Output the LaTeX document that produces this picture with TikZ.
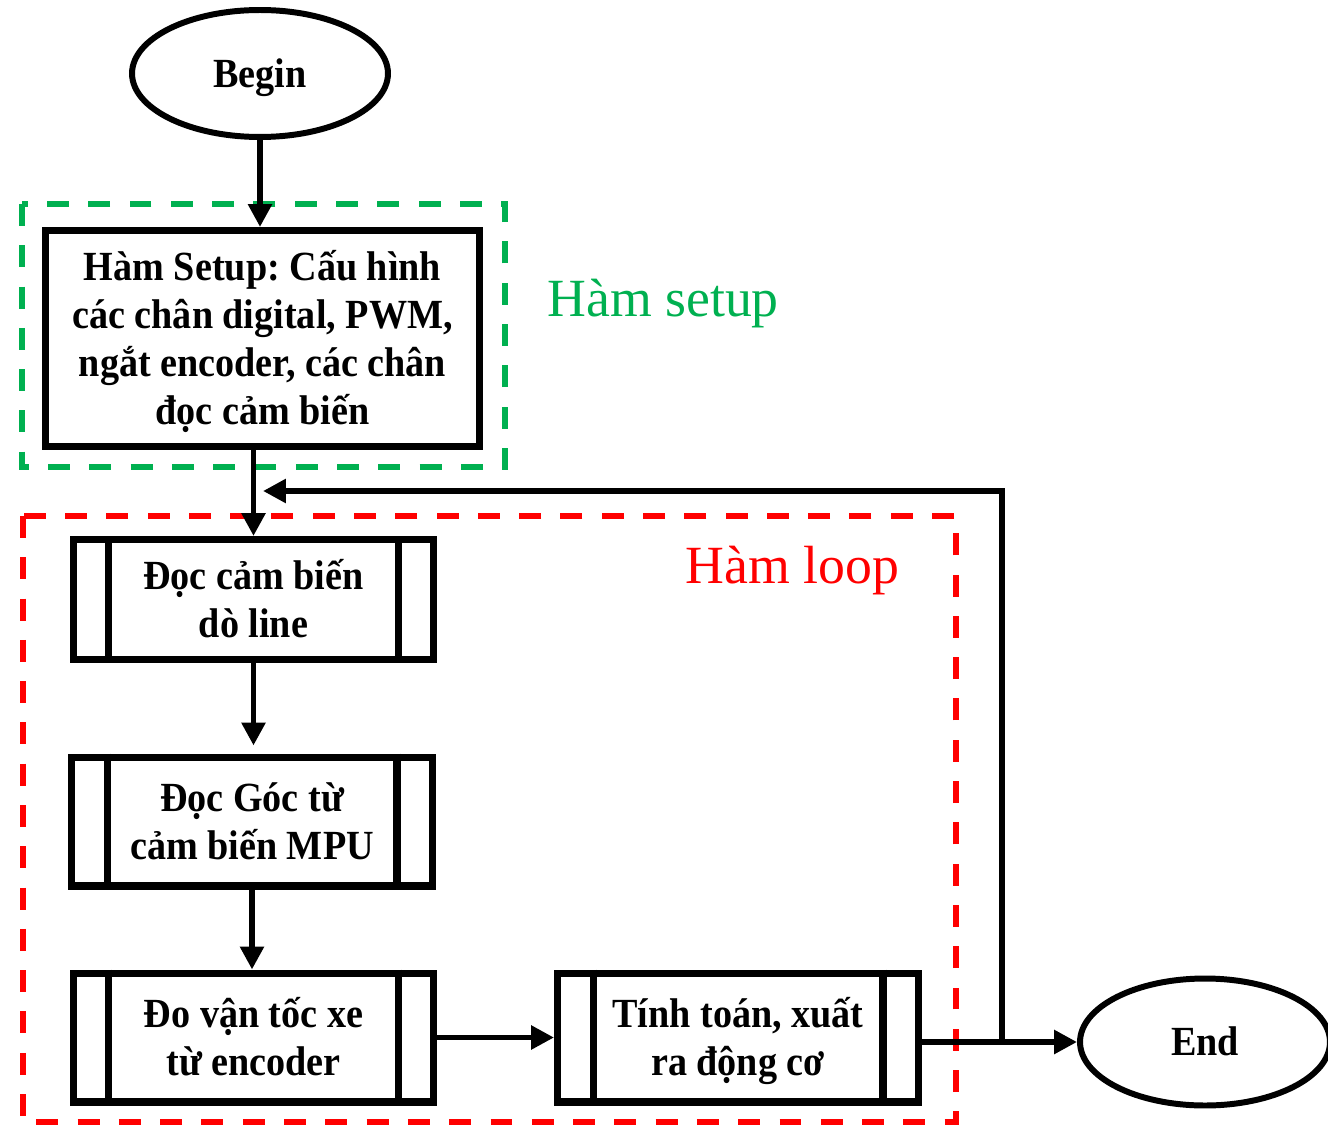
\documentclass[tikz,border=0pt]{standalone}
\usepackage{fontspec}
\setmainfont{Liberation Serif}
\newfontfamily\boxfont{Liberation Serif}[FakeStretch=0.92]
\usetikzlibrary{shapes.geometric}
\usetikzlibrary{arrows.meta}
\usetikzlibrary{calc}
\definecolor{setupgreen}{RGB}{0,176,80}
\definecolor{loopred}{RGB}{255,0,0}
\frenchspacing

\begin{document}
\begin{tikzpicture}[x=0.02cm, y=-0.02cm,
    boxtext/.style={font=\boxfont\bfseries\fontsize{23.6pt}{27.2pt}\selectfont, align=center,
        text depth=5.7pt, text height=21.5pt},
    twolines/.style={text height=48.7pt},
    fourlines/.style={text height=103.1pt},
    terminal/.style={boxtext, draw, ellipse, line width=3.4pt, inner sep=0pt, minimum height=2.54cm},
    process/.style={boxtext, draw, rectangle, line width=4pt, inner sep=0pt},
    subroutine/.style={process, twolines, minimum width=7.22cm, minimum height=2.58cm},
    arr/.style={line width=3.4pt, -{Triangle[length=13pt, width=13pt]}},
    group/.style={line width=3.2pt, dash pattern=on 12.5pt off 11pt},
    grouplabel/.style={anchor=base west, inner sep=0pt, font=\fontsize{30.6pt}{36pt}\selectfont}
    ]

    \useasboundingbox (0,0) rectangle (1328,1125);

    % groups
    \draw[group, setupgreen] (22,204) rectangle (505,467);
    \draw[group, loopred] (23,516) rectangle (956,1122);
    \node[grouplabel, setupgreen] (setuplabel) at (547,316) {Hàm setup};
    \node[grouplabel, loopred] (looplabel) at (685,583) {Hàm loop};

    % blocks
    \node[terminal, minimum width=5.12cm] (start) at (260,73.5) {Begin};
    \node[process, fourlines, minimum width=8.68cm, minimum height=4.32cm] (setup) at (262.5,338.5)
        {Hàm Setup: Cấu hình\\các chân digital, PWM,\\ngắt encoder, các chân\\đọc cảm biến};
    \node[subroutine, minimum height=2.4cm] (readline) at (253.5,599.5) {Đọc cảm biến\\dò line};
    \node[subroutine] (readangle) at (252,821.5) {Đọc Góc từ\\cảm biến MPU};
    \node[subroutine] (speed) at (253.5,1037.5) {Đo vận tốc xe\\từ encoder};
    \node[subroutine] (motor) at (738,1037.5) {Tính toán, xuất\\ra động cơ};
    \node[terminal, minimum width=5cm] (finish) at (1205,1042) {End};

    \foreach \n in {readline,readangle,speed,motor}{
        \draw[line width=4pt] ([xshift=0.78cm]\n.north west) -- ([xshift=0.78cm]\n.south west)
            ([xshift=-0.78cm]\n.north east) -- ([xshift=-0.78cm]\n.south east);
    }

    % connectors
    \draw[arr] (start.south) -- (start.south |- setup.north);
    \draw[arr] (setup.south -| readline.north) -- (readline.north);
    \draw[arr, shorten >=0.16cm] (readline.south) -- (readline.south |- readangle.north);
    \draw[arr] (readangle.south) -- (readangle.south |- speed.north);
    \draw[arr] (speed.east) -- (motor.west);
    \draw[arr] (motor.east |- finish.west) -- (finish.west);

    \coordinate (back) at (1002,491);
    \draw[arr, shorten >=0.19cm] (back |- finish.west) -- (back) -- (back -| readline.north);

\end{tikzpicture}
\end{document}
